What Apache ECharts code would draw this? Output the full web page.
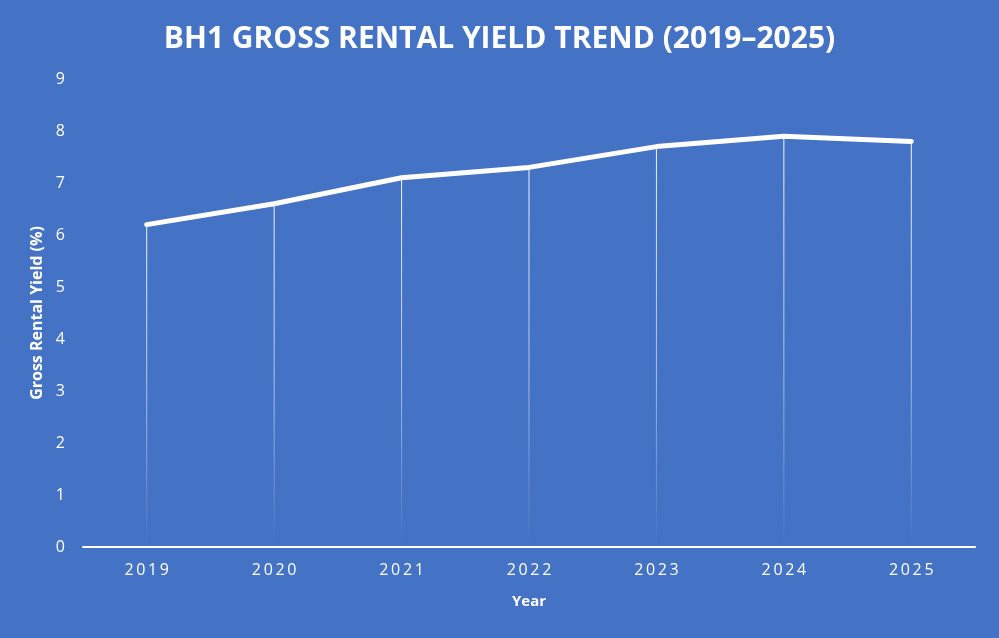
<!DOCTYPE html>
<html><head><meta charset="utf-8">
<script src="https://cdn.jsdelivr.net/npm/echarts@6/dist/echarts.min.js"></script>
<style>html,body{margin:0;padding:0;background:#4472C4;}#c{width:999px;height:638px;}</style>
</head><body><div id="c"></div>
<script>
var years = ['2019','2020','2021','2022','2023','2024','2025'];
var yieldValues = [6.2, 6.6, 7.1, 7.3, 7.7, 7.9, 7.8];
var yTicks = [0,1,2,3,4,5,6,7,8,9];

var chart = echarts.init(document.getElementById('c'));
chart.setOption({
  backgroundColor: '#4472C4',
  title: {
    text: 'BH1 GROSS RENTAL YIELD TREND (2019\u20132025)',
    left: 'center', top: 19,
    textStyle: {color: '#fff', fontFamily: 'Open Sans', fontWeight: 'bold', fontSize: 30}
  },
  grid: {left: 83, right: 24, top: 79, bottom: 91},
  xAxis: {
    type: 'category', data: years, boundaryGap: true,
    name: 'Year', nameLocation: 'middle', nameGap: 47,
    nameTextStyle: {color: '#fff', fontFamily: 'Open Sans', fontWeight: 'bold', fontSize: 15},
    axisLine: {lineStyle: {color: '#fff', width: 2}},
    axisTick: {show: false},
    axisLabel: {color: '#fff', fontFamily: 'Open Sans', fontSize: 16, margin: 15,
      formatter: function(v){ return v.split('').join('\u2009'); }}
  },
  yAxis: {
    type: 'value', min: 0, max: 9, interval: 1,
    name: 'Gross Rental Yield (%)', nameLocation: 'middle', nameGap: 34,
    nameTextStyle: {color: '#fff', fontFamily: 'Open Sans', fontWeight: 'bold', fontSize: 16},
    axisLine: {show: false}, axisTick: {show: false}, splitLine: {show: false},
    axisLabel: {color: '#fff', fontFamily: 'Open Sans', fontSize: 16, margin: 18,
      formatter: function(v){ return yTicks.indexOf(v) >= 0 ? String(v) : ''; }}
  },
  series: [
    {
      type: 'bar', data: yieldValues, barWidth: 1, silent: true,
      itemStyle: {color: new echarts.graphic.LinearGradient(0,0,0,1,[
        {offset: 0, color: 'rgba(255,255,255,0.95)'},
        {offset: 0.6, color: 'rgba(255,255,255,0.5)'},
        {offset: 1, color: 'rgba(255,255,255,0.0)'}
      ])}
    },
    {
      type: 'line', data: yieldValues, symbol: 'none', silent: true,
      lineStyle: {color: '#fff', width: 5, cap: 'round', join: 'round'}
    }
  ]
});
</script></body></html>
